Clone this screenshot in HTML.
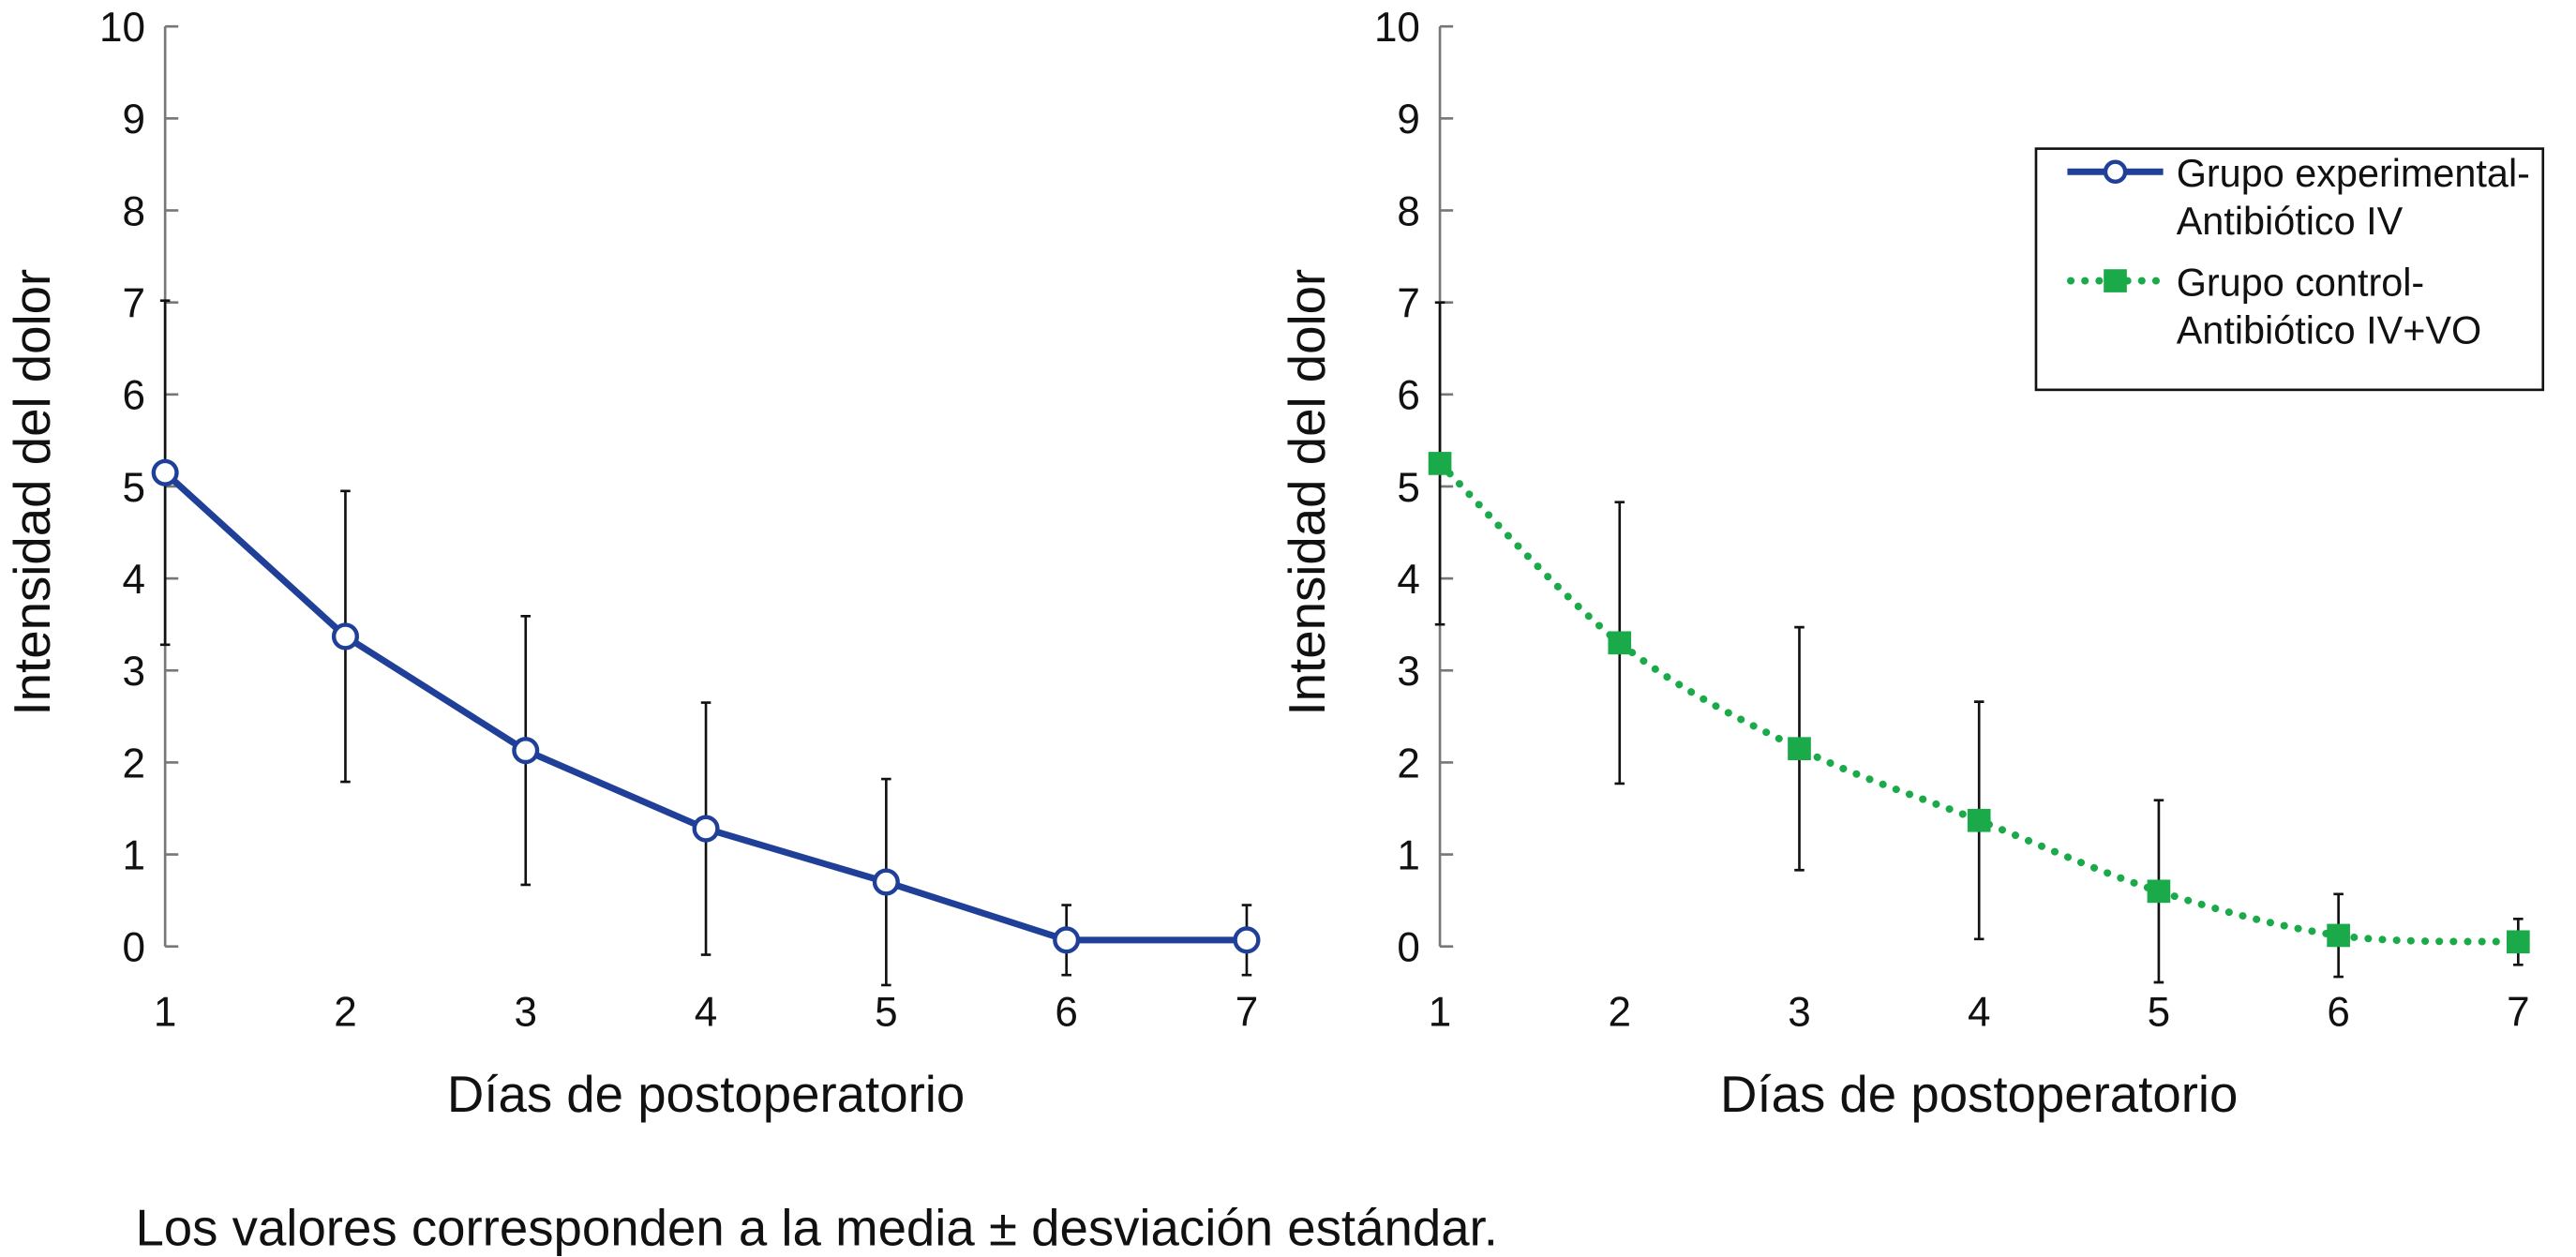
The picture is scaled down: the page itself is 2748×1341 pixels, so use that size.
<!DOCTYPE html>
<html><head><meta charset="utf-8"><style>
html,body{margin:0;padding:0;background:#fff}
svg{display:block;font-family:"Liberation Sans",Arial,sans-serif}
</style></head><body>
<svg id="c" width="2748" height="1341" viewBox="0 0 1560 761" preserveAspectRatio="none"></svg>
<script>
const days = [1,2,3,4,5,6,7];
const yTicks = [0,1,2,3,4,5,6,7,8,9,10];
const expMean = [5.15,3.37,2.13,1.28,0.70,0.07,0.07];
const expSd = [1.87,1.58,1.46,1.37,1.12,0.38,0.38];
const ctlMean = [5.25,3.30,2.15,1.37,0.60,0.12,0.05];
const ctlSd = [1.75,1.53,1.32,1.29,0.99,0.45,0.25];

const NS='http://www.w3.org/2000/svg';
const svg=document.getElementById('c');
function mk(tag,attrs,parent){const e=document.createElementNS(NS,tag);for(const k in attrs)e.setAttribute(k,attrs[k]);(parent||svg).appendChild(e);return e;}

function panel(x0,x7,mean,sd,kind,prefix){
  const g=mk('g',{});
  
  
  const yS=v=>573-v*55.7;
  const xS=d=>x0+(d-1)*(x7-x0)/6;
  const ax=mk('line',{x1:x0,y1:yS(10),x2:x0,y2:yS(0),stroke:'#777','stroke-width':1.5},g);
  
  
  yTicks.forEach(t=>{
    mk('line',{x1:x0,y1:yS(t),x2:x0+8,y2:yS(t),stroke:'#777','stroke-width':1.5},g);
    const tx=mk('text',{x:x0-12,y:yS(t)+9,'font-size':25,'text-anchor':'end',fill:'#111'},g);
    tx.textContent=t;
    
    
  });
  days.forEach(d=>{
    const tx=mk('text',{x:xS(d),y:621,'font-size':25,'text-anchor':'middle',fill:'#111'},g);
    tx.textContent=d;
    
    
  });
  const xt=mk('text',{x:(x0+x7)/2,y:673,'font-size':31,'text-anchor':'middle',fill:'#111'},g);
  xt.textContent='Días de postoperatorio';
  
  
  const yt=mk('text',{x:0,y:0,'font-size':31,'text-anchor':'middle',fill:'#111',transform:`translate(${x0-70},298) rotate(-90)`},g);
  yt.textContent='Intensidad del dolor';
  
  
  days.forEach((d,i)=>{
    const x=xS(d),t=yS(mean[i]+sd[i]),b=yS(mean[i]-sd[i]);
    const eb=mk('path',{d:`M${x},${t}V${b}M${x-3},${t}H${x+3}M${x-3},${b}H${x+3}`,stroke:'#111','stroke-width':1.5,fill:'none'},g);
    
    
  });
  const pts=days.map((d,i)=>[xS(d),yS(mean[i])]);
  let dstr;
  if(kind==='exp'){
    dstr='M'+pts.map(p=>p.join(',')).join('L');
  } else {
    dstr='M'+pts[0].join(',');
    for(let i=0;i<pts.length-1;i++){
      const p0=pts[Math.max(0,i-1)],p1=pts[i],p2=pts[i+1],p3=pts[Math.min(pts.length-1,i+2)];
      const c1=[p1[0]+(p2[0]-p0[0])/6,p1[1]+(p2[1]-p0[1])/6];
      const c2=[p2[0]-(p3[0]-p1[0])/6,p2[1]-(p3[1]-p1[1])/6];
      dstr+=`C${c1.join(',')} ${c2.join(',')} ${p2.join(',')}`;
    }
  }
  const ln=mk('path',kind==='exp'?{d:dstr,stroke:'#1f3f99','stroke-width':4,fill:'none'}:{d:dstr,stroke:'#1aaa4a','stroke-width':4.5,fill:'none','stroke-dasharray':'0.1 8.5','stroke-linecap':'round'},g);
  
  
  pts.forEach(p=>{
    let m;
    if(kind==='exp') m=mk('circle',{cx:p[0],cy:p[1],r:7,fill:'#fff',stroke:'#1f3f99','stroke-width':2.5},g);
    else m=mk('rect',{x:p[0]-7,y:p[1]-7,width:14,height:14,fill:'#1aaa4a'},g);
    
    
  });
}
panel(100,755,expMean,expSd,'exp','experimental');
panel(872,1525,ctlMean,ctlSd,'ctl','control');

const lg=mk('g',{});


mk('rect',{x:1233,y:90,width:307,height:146,fill:'#fff',stroke:'#111','stroke-width':1.5},lg);
mk('line',{x1:1252,y1:104,x2:1310,y2:104,stroke:'#1f3f99','stroke-width':4},lg);
mk('circle',{cx:1281,cy:104,r:6,fill:'#fff',stroke:'#1f3f99','stroke-width':2.5},lg);
mk('line',{x1:1254,y1:170,x2:1310,y2:170,stroke:'#1aaa4a','stroke-width':4.5,'stroke-dasharray':'0.1 8.5','stroke-linecap':'round'},lg);
mk('rect',{x:1274,y:163,width:14,height:14,fill:'#1aaa4a'},lg);
[['Grupo experimental-',113],['Antibiótico IV',142],['Grupo control-',179],['Antibiótico IV+VO',208]].forEach(([s,y])=>{
  const t=mk('text',{x:1318,y:y,'font-size':23.5,fill:'#111'},lg);
  t.textContent=s;
  
  
});
const fn=mk('text',{x:82,y:754,'font-size':31,fill:'#111'});
fn.textContent='Los valores corresponden a la media ± desviación estándar.';


</script>
</body></html>
